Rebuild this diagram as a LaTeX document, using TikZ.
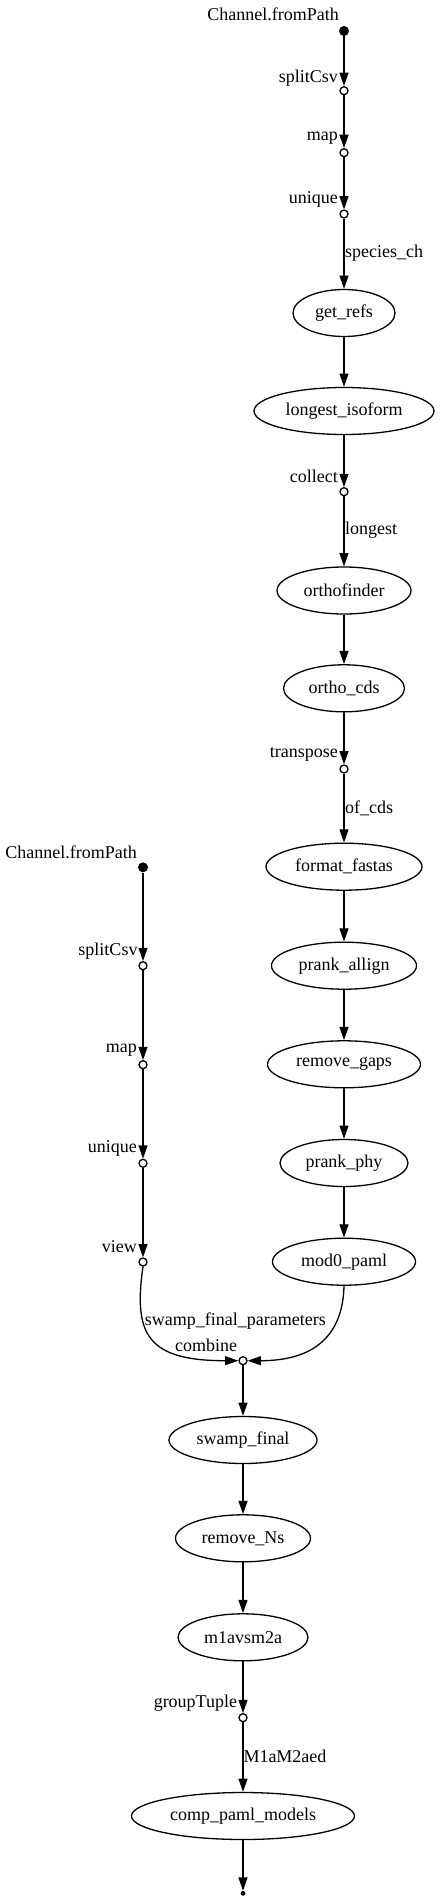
\documentclass[tikz,border=0pt]{standalone}
\usepackage{fontspec}
\setmainfont{Liberation Serif}
\usetikzlibrary{shapes.geometric,arrows.meta}
\begin{document}
\begin{tikzpicture}[x=1pt,y=-1pt,
  every node/.style={font=\fontsize{18}{22}\selectfont},
  proc/.style={draw, ellipse, line width=1.3pt, inner sep=0pt, minimum height=47},
  op/.style={draw, circle, line width=1.3pt, fill=white, inner sep=0pt, minimum size=8},
  srcdot/.style={circle, fill=black, inner sep=0pt, minimum size=10},
  sinkdot/.style={circle, fill=black, inner sep=0pt, minimum size=4.8},
  lab/.style={inner sep=0pt},
  conn/.style={line width=1.3pt, -{Triangle[length=13.3pt,width=9pt]}},
]
\useasboundingbox (0,0) rectangle (439,1902);

% right column
\node[srcdot] (s1) at (344,31) {};
\node[lab,anchor=east] (l1) at (339,14) {Channel.fromPath};
\node[op] (a1) at (344,90.7) {};
\node[lab,anchor=east] (l2) at (338,78.5) {splitCsv};
\node[op] (a2) at (344,152.7) {};
\node[lab,anchor=east] (l3) at (338,138.5) {map};
\node[op] (a3) at (344,214) {};
\node[lab,anchor=east] (l4) at (338,199) {unique};
\node[lab,anchor=west] (l5) at (345,253) {species\_ch};
\node[proc,minimum width=102] (getrefs) at (344,313) {get\_refs};
\node[proc,minimum width=180] (longiso) at (344,411) {longest\_isoform};
\node[op] (a4) at (344,491.7) {};
\node[lab,anchor=east] (l6) at (338,476.7) {collect};
\node[lab,anchor=west] (l7) at (345,530) {longest};
\node[proc,minimum width=134] (ortho) at (344,590.5) {orthofinder};
\node[proc,minimum width=121] (orthocds) at (344,688.3) {ortho\_cds};
\node[op] (a5) at (344,769) {};
\node[lab,anchor=east] (l8) at (338,754) {transpose};
\node[lab,anchor=west] (l9) at (345,808) {of\_cds};
\node[proc,minimum width=156] (fmt) at (344,866.7) {format\_fastas};
\node[proc,minimum width=145] (prankal) at (344,965.7) {prank\_allign};
\node[proc,minimum width=153] (rmgaps) at (344,1064.3) {remove\_gaps};
\node[proc,minimum width=128] (prankphy) at (344,1163) {prank\_phy};
\node[proc,minimum width=143] (mod0) at (344,1261.7) {mod0\_paml};

% left column
\node[srcdot] (s2) at (143,867.3) {};
\node[lab,anchor=east] (m1) at (137,852.3) {Channel.fromPath};
\node[op] (b1) at (143,965.7) {};
\node[lab,anchor=east] (m2) at (137.7,950.7) {splitCsv};
\node[op] (b2) at (143,1064.7) {};
\node[lab,anchor=east] (m3) at (137,1050) {map};
\node[op] (b3) at (143,1163.3) {};
\node[lab,anchor=east] (m4) at (137,1148.3) {unique};
\node[op] (b4) at (143,1262) {};
\node[lab,anchor=east] (m5) at (137,1246.7) {view};

% bottom column
\node[op] (comb) at (243,1360.7) {};
\node[lab] (n1) at (235.3,1320.7) {swamp\_final\_parameters};
\node[lab] (n2) at (206,1345) {combine};
\node[proc,minimum width=148] (swamp) at (243,1440) {swamp\_final};
\node[proc,minimum width=135] (rmNs) at (243,1538.3) {remove\_Ns};
\node[proc,minimum width=130] (m1a) at (243,1637.3) {m1avsm2a};
\node[op] (gt) at (243,1717.7) {};
\node[lab,anchor=east] (n3) at (237.3,1703.3) {groupTuple};
\node[lab,anchor=west] (n4) at (243.3,1756.7) {M1aM2aed};
\node[proc,minimum width=223] (comp) at (243,1816) {comp\_paml\_models};
\node[sinkdot] (fin) at (243,1893.3) {};

% edges
\draw[conn] (s1) -- (a1);
\draw[conn] (a1) -- (a2);
\draw[conn] (a2) -- (a3);
\draw[conn] (a3) -- (getrefs);
\draw[conn] (getrefs) -- (longiso);
\draw[conn] (longiso) -- (a4);
\draw[conn] (a4) -- (ortho);
\draw[conn] (ortho) -- (orthocds);
\draw[conn] (orthocds) -- (a5);
\draw[conn] (a5) -- (fmt);
\draw[conn] (fmt) -- (prankal);
\draw[conn] (prankal) -- (rmgaps);
\draw[conn] (rmgaps) -- (prankphy);
\draw[conn] (prankphy) -- (mod0);

\draw[conn] (s2) -- (b1);
\draw[conn] (b1) -- (b2);
\draw[conn] (b2) -- (b3);
\draw[conn] (b3) -- (b4);

\draw[conn] (b4.south) .. controls (133,1335) and (148,1360.7) .. (comb.west);
\draw[conn] (mod0.south) .. controls (343,1330) and (320,1360.7) .. (comb.east);

\draw[conn] (comb) -- (swamp);
\draw[conn] (swamp) -- (rmNs);
\draw[conn] (rmNs) -- (m1a);
\draw[conn] (m1a) -- (gt);
\draw[conn] (gt) -- (comp);
\draw[conn] (comp) -- (fin);
\end{tikzpicture}
\end{document}
